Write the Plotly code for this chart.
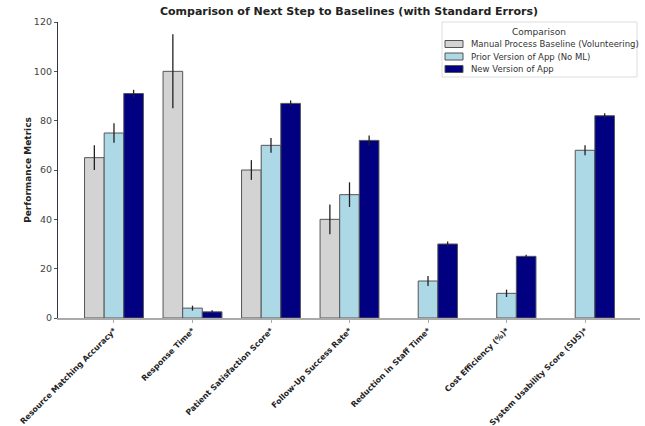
import plotly.graph_objects as go

categories = [
    "Resource Matching Accuracy*",
    "Response Time*",
    "Patient Satisfaction Score*",
    "Follow-Up Success Rate*",
    "Reduction in Staff Time*",
    "Cost Efficiency (%)*",
    "System Usability Score (SUS)*",
]

manual_vals = [65, 100, 60, 40, None, None, None]
manual_err = [5, 15, 4, 6, None, None, None]

prior_vals = [75, 4, 70, 50, 15, 10, 68]
prior_err = [4, 1, 3, 5, 2, 1.5, 2]

new_vals = [91, 2.5, 87, 72, 30, 25, 82]
new_err = [1.5, 0.6, 1.2, 2, 1, 0.6, 1]

series = [
    ("Manual Process Baseline (Volunteering)", manual_vals, manual_err, "#d3d3d3"),
    ("Prior Version of App (No ML)", prior_vals, prior_err, "#add8e6"),
    ("New Version of App", new_vals, new_err, "#000080"),
]

FONT = "DejaVu Sans"
W, H = 645, 426
ML, MR, MT, MB = 58, 5, 22, 108

fig = go.Figure()
for name, vals, errs, color in series:
    fig.add_trace(go.Bar(
        name=name,
        x=categories,
        y=vals,
        marker=dict(color=color, line=dict(color="#555555", width=1)),
        error_y=dict(type="data", array=errs, visible=True,
                     color="#222222", thickness=1.3, width=0),
        showlegend=False,
    ))

# Boxed legend drawn in pixel terms, converted to paper coordinates
pw, ph = W - ML - MR, H - MT - MB


def px(x):
    return (x - ML) / pw


def py(y):
    return (H - MB - y) / ph


shapes = [dict(type="rect", xref="paper", yref="paper",
               x0=px(442), x1=px(637), y0=py(77), y1=py(22),
               line=dict(color="#dddddd", width=1), fillcolor="white",
               layer="above")]
annotations = [dict(text="Comparison", xref="paper", yref="paper",
                    x=px(539), y=py(32), xanchor="center", yanchor="middle",
                    showarrow=False,
                    font=dict(family=FONT, size=9, color="#333333"))]
for i, (name, _, _, color) in enumerate(series):
    yc = 44 + i * 12.5
    shapes.append(dict(type="rect", xref="paper", yref="paper",
                       x0=px(445), x1=px(463), y0=py(yc + 3.5), y1=py(yc - 3.5),
                       line=dict(color="#555555", width=1), fillcolor=color,
                       layer="above"))
    annotations.append(dict(text=name, xref="paper", yref="paper",
                            x=px(469), y=py(yc), xanchor="left", yanchor="middle",
                            showarrow=False,
                            font=dict(family=FONT, size=8.5, color="#333333")))

fig.update_layout(
    barmode="group",
    bargap=0.25,
    bargroupgap=0,
    width=W,
    height=H,
    margin=dict(l=ML, r=MR, t=MT, b=MB),
    paper_bgcolor="white",
    plot_bgcolor="white",
    font=dict(family=FONT, size=9, color="#222222"),
    title=dict(
        text="<b>Comparison of Next Step to Baselines (with Standard Errors)</b>",
        x=0.5, xanchor="center", xref="paper",
        y=0.982, yanchor="top",
        font=dict(family=FONT, size=11, color="#222222"),
    ),
    shapes=shapes,
    annotations=annotations,
    showlegend=False,
)

fig.update_xaxes(
    range=[-0.713, 6.70],
    tickangle=-45,
    tickfont=dict(family=FONT, size=7.9, color="#222222", weight="bold"),
    showline=True, linecolor="#aaaaaa", linewidth=1.5,
    ticks="outside", ticklen=3, tickcolor="#aaaaaa",
    showgrid=False, zeroline=False, automargin=False,
)

fig.update_yaxes(
    range=[0, 120],
    dtick=20,
    title=dict(text="<b>Performance Metrics</b>", standoff=0,
               font=dict(family=FONT, size=9, color="#222222")),
    tickfont=dict(family=FONT, size=9.5, color="#444444"),
    showline=True, linecolor="#333344", linewidth=1.2,
    ticks="outside", ticklen=3, tickcolor="#555555",
    showgrid=False, zeroline=False, automargin=False,
)

fig.write_html("out.html")
